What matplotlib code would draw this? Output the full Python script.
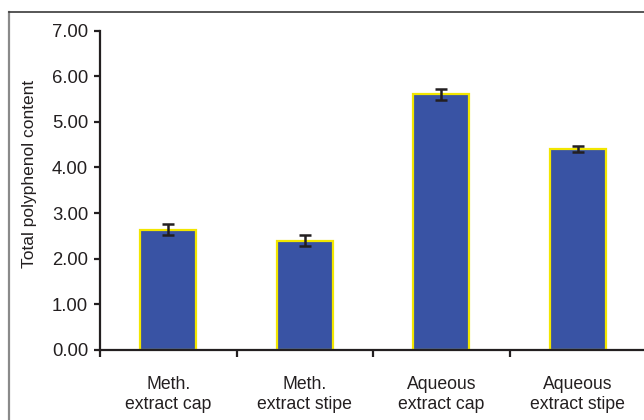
import numpy as np
import matplotlib.pyplot as plt
from matplotlib.lines import Line2D

plt.rcParams['font.family'] = ['Liberation Sans', 'DejaVu Sans']

categories = ['Meth.\nextract cap', 'Meth.\nextract stipe',
              'Aqueous\nextract cap', 'Aqueous\nextract stipe']
values = [2.63, 2.39, 5.60, 4.41]
errors = [0.12, 0.12, 0.12, 0.07]
yticks = [0.0, 1.0, 2.0, 3.0, 4.0, 5.0, 6.0, 7.0]

W, H = 644, 420
fig = plt.figure(figsize=(W / 100, H / 100), dpi=100)
ax = fig.add_axes([100 / W, (H - 350) / H, 546 / W, 319.5 / H])

x = np.arange(len(categories))
ax.bar(x, values, width=0.41, color='#3953a4', edgecolor='#f2e600',
       linewidth=1.6, zorder=2)
ax.errorbar(x, values, yerr=errors, fmt='none', ecolor='#231f20',
            elinewidth=1.8, capsize=4.3, capthick=1.8, zorder=3)

ax.set_xlim(-0.5, 3.5)
ax.set_ylim(0, 7)
ax.set_yticks(yticks)
ax.set_yticklabels([f'{v:.2f}' for v in yticks], fontsize=13.3, color='#231f20')
ax.set_xticks(x)
ax.set_xticklabels(categories, fontsize=12.7, color='#231f20', linespacing=1.2)
ax.set_xticks(np.arange(-0.5, 3.5, 1.0), minor=True)
ax.tick_params(axis='x', which='major', length=0, pad=19)
ax.tick_params(axis='x', which='minor', length=5, width=1.6,
               color='#231f20', direction='out')
ax.tick_params(axis='y', length=4.5, width=1.6, color='#231f20', pad=4)

for side in ['top', 'right']:
    ax.spines[side].set_visible(False)
for side in ['left', 'bottom']:
    ax.spines[side].set_linewidth(1.6)
    ax.spines[side].set_color('#231f20')

fig.text(30 / W, (H - 174) / H, 'Total polyphenol content', fontsize=12.5,
         color='#231f20', rotation=90, ha='center', va='center')

# outer frame: left and top edges
fig.add_artist(Line2D([9 / W, 9 / W], [0, (H - 12) / H], color='#8a8a8a',
                      linewidth=1.6, transform=fig.transFigure))
fig.add_artist(Line2D([9 / W, 1.0], [(H - 12) / H, (H - 12) / H],
                      color='#3a3a3a', linewidth=1.2, transform=fig.transFigure))

fig.savefig('out.png', dpi=100)
